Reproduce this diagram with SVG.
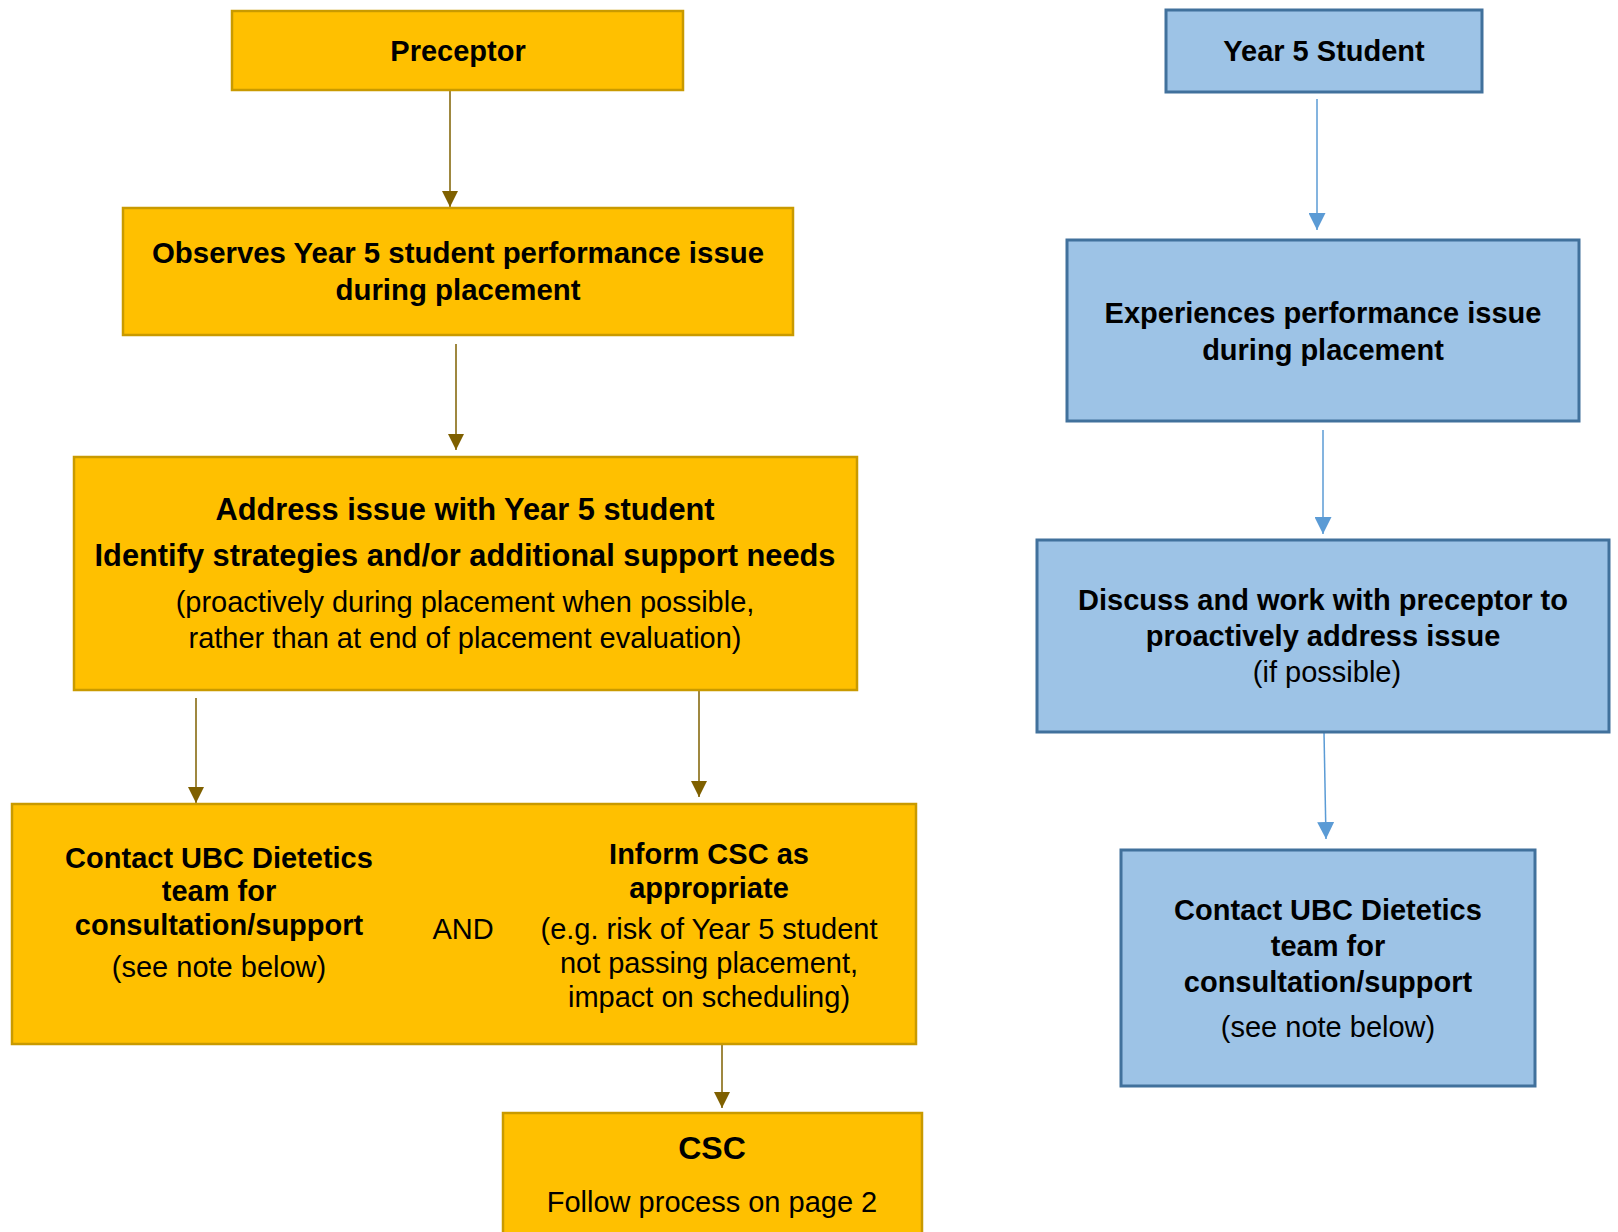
<svg xmlns="http://www.w3.org/2000/svg" width="1618" height="1232" viewBox="0 0 1618 1232">
<style>
  .gold { fill: #FFC000; stroke: #C99A00; stroke-width: 2.5; }
  .blue { fill: #9DC3E6; stroke: #41719C; stroke-width: 3; }
  text { font-family: "Liberation Sans", Arial, sans-serif; font-size: 29px; fill: #000; text-anchor: middle; }
  .b { font-weight: bold; }
  .big { font-size: 30.8px; }
  .ga { stroke: #7F6000; stroke-width: 1.5; fill: none; }
  .ba { stroke: #5B9BD5; stroke-width: 1.5; fill: none; }
</style>
<defs>
  <marker id="ah-gold" markerUnits="userSpaceOnUse" markerWidth="16" markerHeight="16" viewBox="0 0 16 16" refX="16" refY="8" orient="auto">
    <path d="M0,0 L16,8 L0,16 Z" fill="#7F6000"/>
  </marker>
  <marker id="ah-blue" markerUnits="userSpaceOnUse" markerWidth="17" markerHeight="17" viewBox="0 0 17 17" refX="17" refY="8.5" orient="auto">
    <path d="M0,0 L17,8.5 L0,17 Z" fill="#5B9BD5"/>
  </marker>
</defs>
<rect width="1618" height="1232" fill="#FFFFFF"/>

<g id="connectors">
  <line class="ga" x1="450" y1="90" x2="450" y2="207" marker-end="url(#ah-gold)"/>
  <line class="ga" x1="456" y1="344" x2="456" y2="450" marker-end="url(#ah-gold)"/>
  <line class="ga" x1="196" y1="698" x2="196" y2="803" marker-end="url(#ah-gold)"/>
  <line class="ga" x1="699" y1="691" x2="699" y2="797" marker-end="url(#ah-gold)"/>
  <line class="ga" x1="722" y1="1045" x2="722" y2="1108" marker-end="url(#ah-gold)"/>
  <line class="ba" x1="1317" y1="99" x2="1317" y2="230" marker-end="url(#ah-blue)"/>
  <line class="ba" x1="1323" y1="430" x2="1323" y2="534" marker-end="url(#ah-blue)"/>
  <line class="ba" x1="1324" y1="732" x2="1326" y2="839" marker-end="url(#ah-blue)"/>
</g>

<g id="preceptor">
  <rect class="gold" x="232" y="11" width="451" height="79"/>
  <text class="b" x="458" y="61">Preceptor</text>
</g>

<g id="observes">
  <rect class="gold" x="123" y="208" width="670" height="127"/>
  <text class="b" x="458" y="263" style="font-size:29.4px">Observes Year 5 student performance issue</text>
  <text class="b" x="458" y="300" style="font-size:29.4px">during placement</text>
</g>

<g id="address">
  <rect class="gold" x="74" y="457" width="783" height="233"/>
  <text class="b big" x="465" y="520">Address issue with Year 5 student</text>
  <text class="b big" x="465" y="566">Identify strategies and/or additional support needs</text>
  <text x="465" y="612">(proactively during placement when possible,</text>
  <text x="465" y="648">rather than at end of placement evaluation)</text>
</g>

<g id="contact-inform">
  <rect class="gold" x="12" y="804" width="904" height="240"/>
  <text class="b" x="219" y="868">Contact UBC Dietetics</text>
  <text class="b" x="219" y="901">team for</text>
  <text class="b" x="219" y="935">consultation/support</text>
  <text x="219" y="977">(see note below)</text>
  <text x="463" y="939">AND</text>
  <text class="b" x="709" y="864">Inform CSC as</text>
  <text class="b" x="709" y="898">appropriate</text>
  <text x="709" y="939">(e.g. risk of Year 5 student</text>
  <text x="709" y="973">not passing placement,</text>
  <text x="709" y="1007">impact on scheduling)</text>
</g>

<g id="csc">
  <rect class="gold" x="503" y="1113" width="419" height="130"/>
  <text class="b" x="712" y="1159" style="font-size:32px">CSC</text>
  <text x="712" y="1212">Follow process on page 2</text>
</g>

<g id="student">
  <rect class="blue" x="1166" y="10" width="316" height="82"/>
  <text class="b" x="1324" y="61">Year 5 Student</text>
</g>

<g id="experiences">
  <rect class="blue" x="1067" y="240" width="512" height="181"/>
  <text class="b" x="1323" y="323">Experiences performance issue</text>
  <text class="b" x="1323" y="360">during placement</text>
</g>

<g id="discuss">
  <rect class="blue" x="1037" y="540" width="572" height="192"/>
  <text class="b" x="1323" y="610">Discuss and work with preceptor to</text>
  <text class="b" x="1323" y="646">proactively address issue</text>
  <text x="1327" y="682">(if possible)</text>
</g>

<g id="contact-student">
  <rect class="blue" x="1121" y="850" width="414" height="236"/>
  <text class="b" x="1328" y="920">Contact UBC Dietetics</text>
  <text class="b" x="1328" y="956">team for</text>
  <text class="b" x="1328" y="992">consultation/support</text>
  <text x="1328" y="1037">(see note below)</text>
</g>
</svg>
